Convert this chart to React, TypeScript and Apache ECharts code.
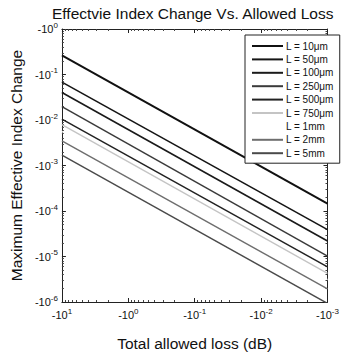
import React, { useEffect, useRef } from "react";
import * as echarts from "echarts";

const lossPoints = [10, 0.001];
const seriesNames = ["L = 10μm", "L = 50μm", "L = 100μm", "L = 250μm", "L = 500μm", "L = 750μm", "L = 1mm", "L = 2mm", "L = 5mm"];
const seriesColors = ["#111111", "#151515", "#1a1a1a", "#3a3a3a", "#222222", "#c4c4c4", "#ffffff", "#6e6e6e", "#4a4a4a"];
const seriesWidths = [2, 1.6, 1.6, 1.5, 1.5, 1.3, 1.3, 1.4, 1.4];
const startValues = [0.263, 0.068, 0.0402, 0.0196, 0.0105, 0.0079, 0.0056, 0.00347, 0.0017];
const endValues = [1.45e-4, 3.9e-5, 2.19e-5, 1.02e-5, 5.9e-6, 4.27e-6, 3.1e-6, 1.95e-6, 9.3e-7];

const FONT = "Liberation Sans, Arial, sans-serif";

function expLabel(v: number) {
  const n = Math.round(Math.log10(v));
  return `{b|-10}{s|${n}}`;
}

const labelRich = {
  b: { fontSize: 11, fontFamily: FONT, color: "#111" },
  s: { fontSize: 8, fontFamily: FONT, color: "#111", padding: [0, 0, 8, 0] },
};

export default function App() {
  const ref = useRef<HTMLDivElement>(null);
  useEffect(() => {
    document.body.style.margin = "0";
    const chart = echarts.init(ref.current!, null, { renderer: "svg" });
    const axisCommon = {
      type: "log" as const,
      logBase: 10,
      axisLine: { show: true, lineStyle: { color: "#222", width: 1 } },
      axisTick: { show: true, inside: true, length: 4, lineStyle: { color: "#222" } },
      minorTick: { show: true, splitNumber: 9, length: 2, lineStyle: { color: "#444" } },
      splitLine: { show: false },
      minorSplitLine: { show: false },
    };
    chart.setOption({
      animation: false,
      backgroundColor: "#ffffff",
      title: {
        text: "Effectvie Index Change Vs. Allowed Loss",
        left: 52,
        top: 5,
        padding: 0,
        textStyle: { fontSize: 15.5, fontWeight: "normal", fontFamily: FONT, color: "#111" },
      },
      grid: { left: 47, top: 29, width: 289, height: 288, show: false },
      legend: {
        orient: "vertical",
        left: 245,
        top: 35,
        padding: [5, 6, 4, 7],
        icon: "rect",
        itemWidth: 31,
        itemHeight: 2,
        itemGap: 1.4,
        backgroundColor: "#fff",
        borderColor: "#222",
        borderWidth: 1,
        borderRadius: 0,
        textStyle: { fontSize: 10, lineHeight: 12, fontFamily: FONT, color: "#111", padding: [0, 0, 0, -2] },
        data: seriesNames,
      },
      xAxis: [
        {
          ...axisCommon,
          inverse: true,
          min: 0.001,
          max: 10,
          position: "bottom",
          name: "Total allowed loss (dB)",
          nameLocation: "middle",
          nameGap: 33,
          nameTextStyle: { fontSize: 15.5, fontFamily: FONT, color: "#111" },
          axisLabel: { formatter: expLabel, rich: labelRich, margin: 5 },
        },
        {
          ...axisCommon,
          inverse: true,
          min: 0.001,
          max: 10,
          position: "top",
          axisLabel: { show: false },
        },
      ],
      yAxis: [
        {
          ...axisCommon,
          min: 1e-6,
          max: 1,
          position: "left",
          name: "Maximum Effective Index Change",
          nameLocation: "middle",
          nameGap: 33,
          nameRotate: 90,
          nameTextStyle: { fontSize: 15.5, fontFamily: FONT, color: "#111" },
          axisLabel: { formatter: expLabel, rich: labelRich, margin: 4 },
        },
        {
          ...axisCommon,
          min: 1e-6,
          max: 1,
          position: "right",
          axisLabel: { show: false },
        },
      ],
      series: seriesNames.map((name, i) => ({
        name,
        type: "line",
        xAxisIndex: 0,
        yAxisIndex: 0,
        symbol: "none",
        clip: true,
        lineStyle: { color: seriesColors[i], width: seriesWidths[i] },
        itemStyle: { color: seriesColors[i] },
        data: [
          [lossPoints[0], startValues[i]],
          [lossPoints[1], endValues[i]],
        ],
      })),
    });
    return () => chart.dispose();
  }, []);
  return <div ref={ref} style={{ width: 342, height: 356 }} />;
}
